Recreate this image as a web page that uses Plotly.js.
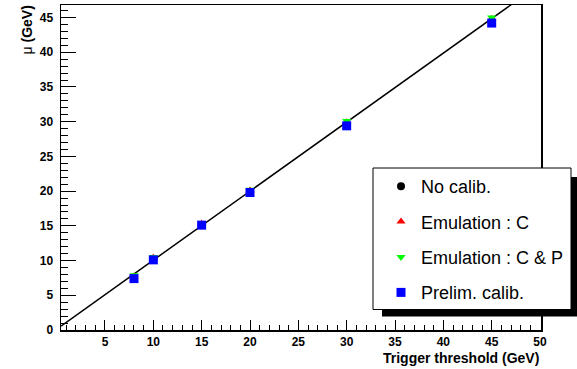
<!DOCTYPE html>
<html>
<head>
<meta charset="utf-8">
<script src="https://cdn.plot.ly/plotly-3.0.1.min.js"></script>
<style>html,body{margin:0;padding:0;background:#fff;}#chart{width:577px;height:369px;}</style>
</head>
<body>
<div id="chart"></div>
<script>
// ---- data ----
var thresholds   = [8, 10, 15, 20, 30, 45];
var noCalib      = [7.5, 10.2, 15.1, 19.9, 29.5, 44.4];
var emulationC   = [7.7, 10.4, 15.3, 20.1, 29.9, 44.8];
var emulationCP  = [7.9, 10.5, 15.4, 20.2, 30.1, 45.0];
var prelimCalib  = [7.4, 10.1, 15.1, 19.8, 29.4, 44.2];
var seriesNames  = ["No calib.", "Emulation : C", "Emulation : C & P", "Prelim. calib."];
var fitParams    = [0.12, 0.994]; // intercept, slope
var xRange = [0.45, 50.1];
var yRange = [0, 46.8];
var xTickVals = [5, 10, 15, 20, 25, 30, 35, 40, 45, 50];
var yTickVals = [0, 5, 10, 15, 20, 25, 30, 35, 40, 45];

var fitX = [xRange[0], xRange[1]];
var fitY = fitX.map(function(x){ return fitParams[0] + fitParams[1]*x; });

var FONT = "Liberation Sans, Arial, Helvetica, sans-serif";
var L = 61, R = 36, T = 5, B = 39, W = 577, H = 369;
var pw = W - L - R, ph = H - T - B;
function px2x(p){ return (p - L) / pw; }
function py2y(p){ return (H - B - p) / ph; }

var traces = [
  {x: fitX, y: fitY, mode: 'lines', line: {color: 'black', width: 1.5}, showlegend: false, hoverinfo: 'skip'},
  {x: thresholds, y: noCalib, mode: 'markers', name: seriesNames[0], legendgroup: 'a',
   marker: {symbol: 'circle', color: 'black', size: 8}},
  {x: thresholds, y: emulationC, mode: 'markers', name: seriesNames[1], legendgroup: 'b',
   marker: {symbol: 'triangle-up', color: 'red', size: 8}},
  {x: thresholds, y: emulationCP, mode: 'markers', name: seriesNames[2], legendgroup: 'c',
   marker: {symbol: 'triangle-down', color: '#00ff00', size: 8}},
  {x: thresholds, y: prelimCalib, mode: 'markers', name: seriesNames[3], legendgroup: 'd',
   marker: {symbol: 'square', color: 'blue', size: 9}}
];

var axCommon = {
  showgrid: false, zeroline: false, showline: true, linecolor: 'black', linewidth: 1.5,
  mirror: true, ticks: 'inside', tickcolor: 'black', tickwidth: 1,
  tickfont: {family: FONT, size: 12, color: 'black', weight: 'bold'},
  tickmode: 'array'
};

var layout = {
  width: W, height: H,
  margin: {l: L, r: R, t: T, b: B, pad: 0},
  paper_bgcolor: 'white', plot_bgcolor: 'white',
  showlegend: true,
  legend: {
    x: px2x(381), y: py2y(168), xanchor: 'left', yanchor: 'top',
    bgcolor: 'rgba(0,0,0,0)', borderwidth: 0,
    font: {family: FONT, size: 18, color: 'black'},
    traceorder: 'grouped', tracegroupgap: 9
  },
  xaxis: Object.assign({}, axCommon, {
    range: xRange, tickvals: xTickVals, ticklen: 10, ticklabelstandoff: 0,
    minor: {ticks: 'inside', ticklen: 5, dtick: 1, tick0: 0, tickcolor: 'black', tickwidth: 1, showgrid: false}
  }),
  yaxis: Object.assign({}, axCommon, {
    range: yRange, tickvals: yTickVals, ticklen: 14.5, ticklabelstandoff: 4,
    minor: {ticks: 'inside', ticklen: 7, dtick: 1, tick0: 0, tickcolor: 'black', tickwidth: 1, showgrid: false}
  }),
  shapes: [
    {type: 'rect', xref: 'paper', yref: 'paper', layer: 'above',
     x0: px2x(382), x1: px2x(580), y0: py2y(177), y1: py2y(316.5),
     fillcolor: 'black', line: {width: 0}},
    {type: 'rect', xref: 'paper', yref: 'paper', layer: 'above',
     x0: px2x(373), x1: px2x(571), y0: py2y(168), y1: py2y(309.5),
     fillcolor: 'white', line: {color: 'black', width: 1}}
  ],
  annotations: [
    {xref: 'paper', yref: 'paper', x: 1, y: py2y(357.5), xanchor: 'right', yanchor: 'middle',
     text: '<b>Trigger threshold (GeV)</b>', showarrow: false,
     font: {family: FONT, size: 14, color: 'black'}},
    {xref: 'paper', yref: 'paper', x: px2x(26), y: py2y(4), xanchor: 'center', yanchor: 'top',
     textangle: -90, text: 'μ <b>(GeV)</b>', showarrow: false,
     font: {family: FONT, size: 14, color: 'black'}}
  ]
};

Plotly.newPlot('chart', traces, layout, {displayModeBar: false, staticPlot: true});
</script>
</body>
</html>
